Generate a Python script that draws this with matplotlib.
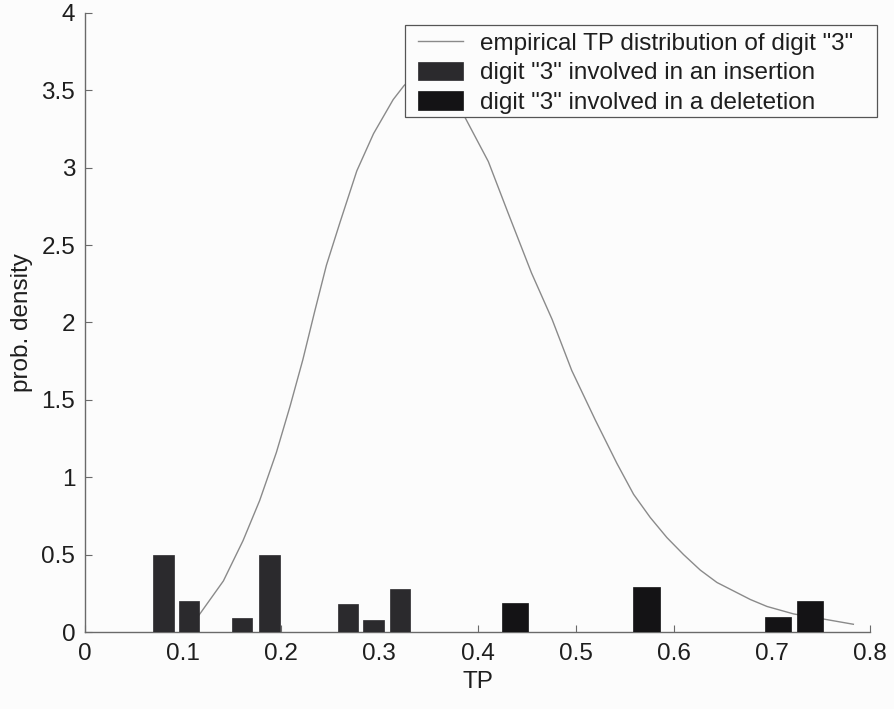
import matplotlib
matplotlib.use("Agg")
import matplotlib.pyplot as plt
from matplotlib.patches import Rectangle

plt.rcParams["font.family"] = ["Liberation Sans", "DejaVu Sans"]

# empirical TP density of digit "3"
tp_x = [0.100, 0.114, 0.141, 0.161, 0.178, 0.195, 0.209, 0.222, 0.234, 0.246,
        0.260, 0.277, 0.294, 0.314, 0.325, 0.335, 0.345, 0.355, 0.365, 0.375,
        0.386, 0.411, 0.431, 0.455, 0.476, 0.496, 0.520, 0.542, 0.559, 0.576,
        0.593, 0.610, 0.627, 0.644, 0.661, 0.678, 0.695, 0.722, 0.756, 0.783]
tp_density = [0.02, 0.09, 0.33, 0.59, 0.85, 1.16, 1.46, 1.76, 2.07, 2.37,
              2.65, 2.98, 3.22, 3.44, 3.53, 3.59, 3.62, 3.62, 3.57, 3.47,
              3.34, 3.04, 2.71, 2.32, 2.02, 1.69, 1.37, 1.09, 0.89, 0.74,
              0.61, 0.50, 0.40, 0.32, 0.265, 0.21, 0.165, 0.117, 0.08, 0.05]

# TP values where digit "3" was involved in an insertion
ins_x = [0.080, 0.106, 0.160, 0.188, 0.268, 0.294, 0.321]
ins_h = [0.50, 0.20, 0.09, 0.50, 0.18, 0.08, 0.28]

# TP values where digit "3" was involved in a deletion
del_x = [0.438, 0.572, 0.706, 0.739]
del_h = [0.19, 0.29, 0.10, 0.20]

x_ticks = [0, 0.1, 0.2, 0.3, 0.4, 0.5, 0.6, 0.7, 0.8]
x_tick_labels = ["0", "0.1", "0.2", "0.3", "0.4", "0.5", "0.6", "0.7", "0.8"]
y_ticks = [0, 0.5, 1, 1.5, 2, 2.5, 3, 3.5, 4]
y_tick_labels = ["0", "0.5", "1", "1.5", "2", "2.5", "3", "3.5", "4"]

FS = 17.5
TXT = "#1e1e1e"
AX = "#6a6a6a"
BG = "#fcfcfc"

fig = plt.figure(figsize=(8.94, 7.09), dpi=100, facecolor=BG)
ax = fig.add_axes([0.0951, 0.1086, 0.8781, 0.8731])
ax.set_facecolor(BG)

line, = ax.plot(tp_x, tp_density, color="#8a8a8a", lw=1.0, zorder=2,
                label='empirical TP distribution of digit "3"')
b1 = ax.bar(ins_x, ins_h, width=0.021, color="#2b2a2d", edgecolor="#2b2a2d",
            lw=0.5, zorder=3, label='digit "3" involved in an insertion')
b2 = ax.bar(del_x, del_h, width=0.027, color="#141315", edgecolor="#141315",
            lw=0.5, zorder=3, label='digit "3" involved in a deletetion')

ax.set_xlim(0, 0.8)
ax.set_ylim(0, 4)
ax.set_xticks(x_ticks)
ax.set_xticklabels(x_tick_labels)
ax.set_yticks(y_ticks)
ax.set_yticklabels(y_tick_labels)

for s in ["top", "right"]:
    ax.spines[s].set_visible(False)
for s in ["left", "bottom"]:
    ax.spines[s].set_color(AX)
    ax.spines[s].set_linewidth(1.0)

ax.tick_params(axis="both", direction="in", length=5, width=0.8, color=AX,
               labelsize=FS, labelcolor=TXT)
ax.tick_params(axis="x", pad=8)
ax.tick_params(axis="y", pad=7)

ax.set_xlabel("TP", fontsize=FS, color=TXT, labelpad=4)
ax.set_ylabel("prob. density", fontsize=FS, color=TXT, labelpad=6)

# legend box (white fill hides the curve underneath)
box = Rectangle((0.4076, 0.832), 1.0089 - 0.4076, 0.9806 - 0.832,
                transform=ax.transAxes, facecolor=BG, edgecolor="#555555",
                lw=0.9, zorder=4, clip_on=False)
ax.add_patch(box)

leg = ax.legend(handles=[line, b1, b2], loc="upper left",
                bbox_to_anchor=(0.4242, 0.9693),
                fontsize=FS, frameon=False, handlelength=1.85,
                handleheight=0.8, handletextpad=0.72, labelspacing=0.28,
                borderpad=0, borderaxespad=0)
leg.set_zorder(5)
for t in leg.get_texts():
    t.set_color(TXT)

fig.savefig("out.png", dpi=100, facecolor=fig.get_facecolor())
